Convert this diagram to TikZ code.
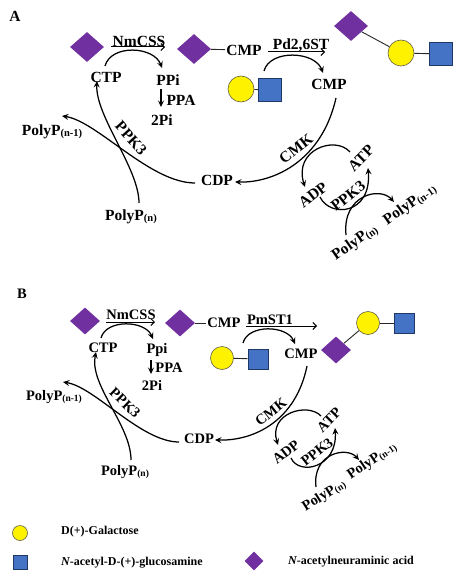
\documentclass[tikz,border=0pt]{standalone}
\usepackage{fontspec}
\setmainfont{Liberation Serif}
\usetikzlibrary{arrows.meta,shapes.geometric,calc}
\newcommand{\polyLabel}[2]{PolyP\raisebox{-1.2pt}{\fontsize{#1}{#1}\selectfont(#2)}}
\tikzset{
  labA/.style={inner sep=1pt,font=\fontsize{15.5}{16}\selectfont\bfseries},
  labB/.style={inner sep=1pt,font=\fontsize{14.5}{15}\selectfont\bfseries},
  legendtext/.style={inner sep=0pt,anchor=west,font=\fontsize{12}{13}\selectfont\bfseries},
  sia/.style={diamond,fill=sugarpurple,inner sep=0pt},
  gal/.style={circle,draw=black!70!yellow,fill=yellow,line width=0.6pt,inner sep=0pt},
  glc/.style={rectangle,draw=squareedge,fill=squareblue,line width=0.6pt,inner sep=0pt},
  conn/.style={line width=1.25pt,-{Stealth[length=6.5pt,width=6pt,inset=2.5pt]}},
  rxn/.style={line width=1pt,-{Straight Barb[length=3.5pt,width=7pt]}},
  bond/.style={line width=0.9pt,draw=black!85}
}
\definecolor{sugarpurple}{HTML}{7030A0}
\definecolor{squareblue}{HTML}{4472C4}
\definecolor{squareedge}{HTML}{1F3864}
\begin{document}
\begin{tikzpicture}[x=1pt,y=-1pt]
\useasboundingbox (0,0) rectangle (458,578);

% ---------- Panel A ----------
\node[labA] (panelA) at (15,16) {A};
\node[sia,minimum width=34pt,minimum height=30pt] (dA1) at (87,47) {};
\node[sia,minimum width=34pt,minimum height=30pt] (dA2) at (194,49) {};
\node[sia,minimum width=34pt,minimum height=30pt] (dA3) at (351,26) {};
\node[gal,minimum size=26pt] (gA1) at (241,89) {};
\node[glc,minimum size=23pt] (sA1) at (270,90) {};
\node[gal,minimum size=26pt] (gA2) at (401,53) {};
\node[glc,minimum size=23pt] (sA2) at (441,54) {};
\node[labA] (nmA) at (139,41) {NmCSS};
\node[labA] (cmpA1) at (244,50) {CMP};
\node[labA] (pdA) at (301,45) {Pd2,6ST};
\node[labA] (ctpA) at (106,77) {CTP};
\node[labA] (ppiA) at (168,80) {PPi};
\node[labA] (ppaA) at (181,100) {PPA};
\node[labA] (twoA) at (162,120) {2Pi};
\node[labA] (cmpA2) at (329,84) {CMP};
\node[labA] (cdpA) at (217,180) {CDP};
\node[labA] (polyA1) at (52,132) {\polyLabel{10.5}{n-1}};
\node[labA] (polyA2) at (131,217) {\polyLabel{10.5}{n}};
\node[labA,rotate=-48] (ppkA1) at (131,138) {PPK3};
\node[labA,rotate=38] (cmkA) at (296,149) {CMK};
\node[labA,rotate=38] (adpA) at (313,195) {ADP};
\node[labA,rotate=45] (atpA) at (361,158) {ATP};
\node[labA,rotate=38] (ppkA2) at (348,196) {PPK3};
\node[labA,rotate=35] (polyA3) at (355,243) {\polyLabel{10.5}{n}};
\node[labA,rotate=35] (polyA4) at (410,205) {\polyLabel{10.5}{n-1}};

\draw[bond] (dA2) -- (cmpA1);
\draw[bond] (gA1) -- (sA1);
\draw[bond] (dA3) -- (gA2);
\draw[bond] (gA2) -- (sA2);
\draw[rxn] ($(dA1)+(24,0)$) -- ($(dA1)+(78,0)$);
\draw[conn] ($(ctpA)+(-1,-11)$) .. controls +(6,-22) and +(-8,-22) .. ($(ppiA)+(-6,-12)$);
\draw[conn] ($(ppiA)+(-7,9)$) -- ($(twoA)+(-1,-13)$);
\draw[conn] ($(cdpA)+(-22,3)$) .. controls +(-45,0) and +(35,5) .. ($(polyA1)+(10,-16)$);
\draw[conn] ($(polyA2)+(8,-14)$) .. controls +(0,-35) and +(-2,35) .. ($(ctpA)+(-9,4)$);
\draw[rxn] ($(cmpA1)+(24,2)$) -- ($(cmpA1)+(81,2)$);
\draw[conn] ($(cmpA2)+(-65,-13)$) .. controls +(6,-22) and +(-8,-22) .. ($(cmpA2)+(-6,-11)$);
\draw[conn] ($(cmpA2)+(7,14)$) .. controls +(-14,62) and +(40,1) .. ($(cdpA)+(18,2)$);
\draw[conn] ($(atpA)+(-11,-6)$) .. controls +(-15,-17) and +(-12,-37) .. ($(adpA)+(-8,-8)$);
\draw[conn] ($(adpA)+(7,2)$) .. controls +(10,21) and +(4,47) .. ($(atpA)+(7,10)$);
\draw[conn] ($(polyA3)+(-9,-8)$) .. controls +(-4,-40) and +(-14,-16) .. ($(polyA4)+(-16,-3)$);

% ---------- Panel B ----------
\node[labB] (panelB) at (22,294) {B};
\node[sia,minimum width=30pt,minimum height=27pt] (dB1) at (85,321) {};
\node[sia,minimum width=30pt,minimum height=27pt] (dB2) at (180,323) {};
\node[sia,minimum width=30pt,minimum height=27pt] (dB3) at (336,350) {};
\node[gal,minimum size=23pt] (gB1) at (222,358) {};
\node[glc,minimum size=20pt] (sB1) at (258,359) {};
\node[gal,minimum size=23pt] (gB2) at (368,323) {};
\node[glc,minimum size=20pt] (sB2) at (404,323) {};
\node[labB] (nmB) at (131,315) {NmCSS};
\node[labB] (cmpB1) at (224,323) {CMP};
\node[labB] (pmB) at (270,320) {PmST1};
\node[labB] (ctpB) at (103,348) {CTP};
\node[labB] (ppiB) at (157,350) {Ppi};
\node[labB] (ppaB) at (169,368) {PPA};
\node[labB] (twoB) at (152,385) {2Pi};
\node[labB] (cmpB2) at (301,354) {CMP};
\node[labB] (cdpB) at (199,439) {CDP};
\node[labB] (polyB1) at (54,397) {\polyLabel{9.5}{n-1}};
\node[labB] (polyB2) at (125,472) {\polyLabel{9.5}{n}};
\node[labB,rotate=-44] (ppkB1) at (125,403) {PPK3};
\node[labB,rotate=38] (cmkB) at (271,412) {CMK};
\node[labB,rotate=38] (adpB) at (286,452) {ADP};
\node[labB,rotate=45] (atpB) at (329,420) {ATP};
\node[labB,rotate=38] (ppkB2) at (317,452) {PPK3};
\node[labB,rotate=32] (polyB3) at (324,496) {\polyLabel{9.5}{n}};
\node[labB,rotate=34] (polyB4) at (372,461) {\polyLabel{9.5}{n-1}};

\draw[bond] (dB2) -- (cmpB1);
\draw[bond] (gB1) -- (sB1);
\draw[bond] (dB3) -- (gB2);
\draw[bond] (gB2) -- (sB2);
\draw[rxn] ($(dB1)+(21,1)$) -- ($(dB1)+(70,1)$);
\draw[conn] ($(ctpB)+(-2,-10)$) .. controls +(5,-19) and +(-8,-19) .. ($(ppiB)+(-4,-11)$);
\draw[conn] ($(ppiB)+(-6,10)$) -- ($(twoB)+(-1,-11)$);
\draw[conn] ($(cdpB)+(-20,3)$) .. controls +(-38,0) and +(32,5) .. ($(polyB1)+(9,-15)$);
\draw[conn] ($(polyB2)+(6,-12)$) .. controls +(0,-35) and +(-7,33) .. ($(ctpB)+(-7,4)$);
\draw[rxn] ($(cmpB1)+(22,3)$) -- ($(cmpB1)+(93,3)$);
\draw[conn] ($(cmpB2)+(-58,-11)$) .. controls +(5,-19) and +(-8,-19) .. ($(cmpB2)+(-6,-10)$);
\draw[conn] ($(cmpB2)+(6,12)$) .. controls +(-11,54) and +(40,1) .. ($(cdpB)+(16,1)$);
\draw[conn] ($(atpB)+(-8,-4)$) .. controls +(-13,-14) and +(-10,-32) .. ($(adpB)+(-8,-7)$);
\draw[conn] ($(adpB)+(5,6)$) .. controls +(8,18) and +(3,40) .. ($(atpB)+(6,8)$);
\draw[conn] ($(polyB3)+(-8,-9)$) .. controls +(-4,-34) and +(-12,-14) .. ($(polyB4)+(-13,-1)$);

% ---------- Legend ----------
\node[gal,minimum size=15pt] (legGal) at (20,533) {};
\node[legendtext] (legGalT) at (61,532) {D(+)-Galactose};
\node[glc,minimum size=14pt] (legGlc) at (20,562) {};
\node[legendtext] (legGlcT) at (61,563) {{\itshape N}-acetyl-D-(+)-glucosamine};
\node[sia,minimum width=19pt,minimum height=19pt] (legSia) at (254,561) {};
\node[legendtext] (legSiaT) at (288,562) {{\itshape N}-acetylneuraminic acid};
\end{tikzpicture}
\end{document}
